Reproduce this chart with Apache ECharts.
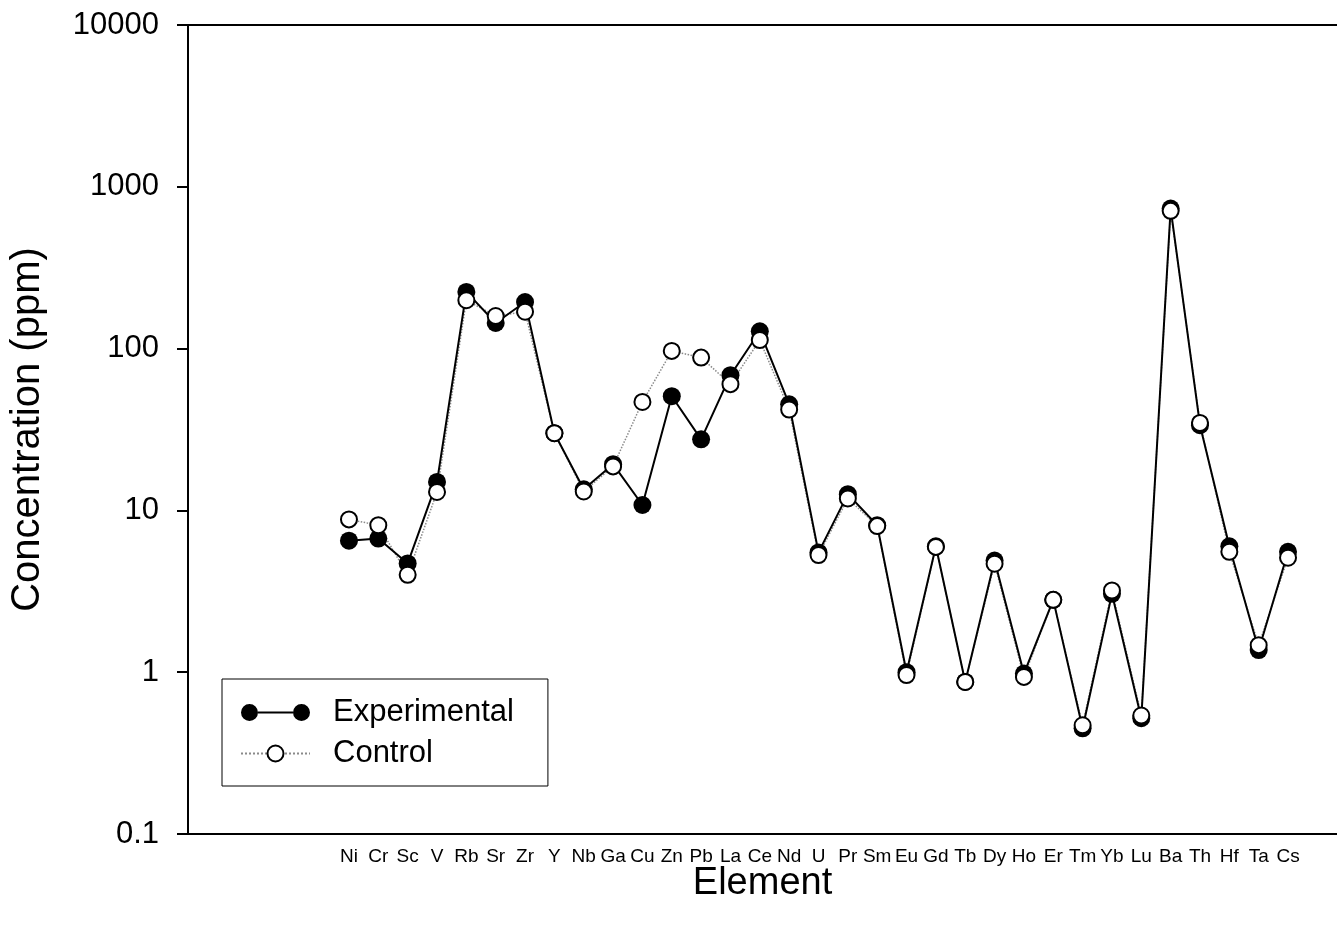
<!DOCTYPE html>
<html>
<head>
<meta charset="utf-8">
<title>Element concentrations</title>
<script src="https://cdn.jsdelivr.net/npm/echarts@6/dist/echarts.min.js"></script>
<style>
  html, body { margin: 0; padding: 0; background: #fff; }
  #chart { width: 1337px; height: 929px; }
</style>
</head>
<body>
<div id="chart"></div>
<script>
const elements = ['Ni', 'Cr', 'Sc', 'V', 'Rb', 'Sr', 'Zr', 'Y', 'Nb', 'Ga', 'Cu', 'Zn', 'Pb', 'La', 'Ce', 'Nd', 'U',
  'Pr', 'Sm', 'Eu', 'Gd', 'Tb', 'Dy', 'Ho', 'Er', 'Tm', 'Yb', 'Lu', 'Ba', 'Th', 'Hf', 'Ta', 'Cs']

const experimental = [6.5, 6.7, 4.7, 15.0, 224, 144, 194, 30, 13.5, 19.3, 10.8, 50.8, 27.5, 68.5, 128, 45.3, 5.5,
  12.6, 8.1, 1.0, 6.0, 0.87, 4.9, 0.98, 2.8, 0.45, 3.05, 0.52, 734, 33.6, 6.0, 1.37, 5.55]

const control = [8.8, 8.1, 4.0, 13.0, 199, 159, 169, 30, 13.1, 18.7, 46.8, 96.8, 88, 60.3, 113, 42, 5.3,
  11.85, 8.0, 0.96, 5.95, 0.87, 4.68, 0.935, 2.8, 0.47, 3.2, 0.54, 710, 34.7, 5.55, 1.47, 5.1]

const yMin = 0.1
const yMax = 10000

const font = 'Liberation Sans, Arial, Helvetica, sans-serif'
const black = '#000'

// two circles joined by a line, for the Experimental legend entry
const expIcon = 'path://M0,8.5A8.5,8.5 0 1,1 17,8.5A8.5,8.5 0 1,1 0,8.5Z' +
  'M52,8.5A8.5,8.5 0 1,1 69,8.5A8.5,8.5 0 1,1 52,8.5Z' +
  'M17,7.5L52,7.5L52,9.5L17,9.5Z'

const controlMarker = {
  symbol: 'circle',
  symbolSize: 16,
  itemStyle: { color: '#fff', borderColor: black, borderWidth: 2, opacity: 1 }
}

const chart = echarts.init(document.getElementById('chart'))

chart.setOption({
  backgroundColor: '#fff',
  animation: false,
  textStyle: { fontFamily: font, color: black },
  grid: [
    // frame: axes and titles
    { left: 188, top: 25, right: 0, bottom: 95 },
    // data: category centres under the points
    { left: 334.3, top: 25, right: 34.3, bottom: 95 }
  ],
  legend: {
    orient: 'vertical',
    left: 222,
    top: 679,
    padding: [18, 34, 17, 18],
    itemWidth: 69,
    itemHeight: 20,
    itemGap: 10,
    borderColor: black,
    borderWidth: 1,
    selectedMode: false,
    textStyle: { fontSize: 31, color: black, fontFamily: font, padding: [0, 0, 0, 18] },
    data: [
      { name: 'Experimental', icon: expIcon },
      { name: 'Control' }
    ]
  },
  xAxis: [
    {
      type: 'value',
      gridIndex: 0,
      min: 0,
      max: 1,
      position: 'bottom',
      name: 'Element',
      nameLocation: 'middle',
      nameGap: 31,
      nameTextStyle: { fontSize: 38, color: black, fontFamily: font },
      axisLine: { onZero: false, lineStyle: { color: black, width: 2 } },
      axisTick: { show: false },
      axisLabel: { show: false },
      splitLine: { show: false }
    },
    {
      type: 'value',
      gridIndex: 0,
      min: 0,
      max: 1,
      position: 'top',
      axisLine: { onZero: false, lineStyle: { color: black, width: 2 } },
      axisTick: { show: false },
      axisLabel: { show: false },
      splitLine: { show: false }
    },
    {
      type: 'category',
      gridIndex: 1,
      data: elements,
      boundaryGap: true,
      axisLine: { show: false },
      axisTick: { show: false },
      splitLine: { show: false },
      axisLabel: { interval: 0, fontSize: 19, color: black, fontFamily: font, margin: 13 }
    }
  ],
  yAxis: [
    {
      type: 'log',
      gridIndex: 0,
      logBase: 10,
      min: yMin,
      max: yMax,
      name: 'Concentration (ppm)',
      nameLocation: 'middle',
      nameGap: 140,
      nameTextStyle: { fontSize: 40, color: black, fontFamily: font },
      axisLine: { show: true, onZero: false, lineStyle: { color: black, width: 2 } },
      axisTick: { show: true, inside: false, length: 11, lineStyle: { color: black, width: 2 } },
      minorTick: { show: false },
      splitLine: { show: false },
      axisLabel: {
        fontSize: 31,
        color: black,
        fontFamily: font,
        margin: 29,
        formatter: (v) => String(v)
      }
    },
    {
      type: 'log',
      gridIndex: 1,
      logBase: 10,
      min: yMin,
      max: yMax,
      show: false
    }
  ],
  series: [
    {
      // dotted control line sits under the solid one
      name: 'Control',
      type: 'line',
      xAxisIndex: 2,
      yAxisIndex: 1,
      data: control,
      ...controlMarker,
      showSymbol: false,
      lineStyle: { color: '#8a8a8a', width: 1.5, type: 'dotted' },
      z: 1
    },
    {
      name: 'Experimental',
      type: 'line',
      xAxisIndex: 2,
      yAxisIndex: 1,
      data: experimental,
      symbol: 'circle',
      symbolSize: 18,
      lineStyle: { color: black, width: 2 },
      itemStyle: { color: black, borderWidth: 0 },
      z: 2
    },
    {
      // open control markers on top of everything
      name: 'Control markers',
      type: 'scatter',
      xAxisIndex: 2,
      yAxisIndex: 1,
      data: control,
      ...controlMarker,
      z: 3
    }
  ]
})

window.addEventListener('resize', () => chart.resize())
</script>
</body>
</html>
